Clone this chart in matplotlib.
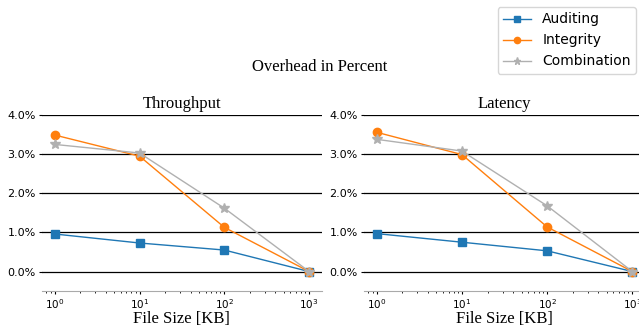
import matplotlib
matplotlib.use("Agg")
import matplotlib.pyplot as plt
from matplotlib.ticker import PercentFormatter

# File sizes in KB
file_sizes = [1, 10, 100, 1000]

# Overhead in percent
throughput_auditing = [0.96, 0.73, 0.55, 0.0]
throughput_integrity = [3.49, 2.95, 1.13, 0.0]
throughput_combination = [3.25, 3.03, 1.62, 0.0]

latency_auditing = [0.97, 0.75, 0.53, 0.0]
latency_integrity = [3.56, 2.99, 1.14, 0.0]
latency_combination = [3.38, 3.08, 1.68, 0.0]

panels = [
    ("Throughput", throughput_auditing, throughput_integrity, throughput_combination),
    ("Latency", latency_auditing, latency_integrity, latency_combination),
]

serif = ["Liberation Serif", "DejaVu Serif"]

fig = plt.figure(figsize=(6.39, 3.26), dpi=100)
positions = [[0.0657, 0.107, 0.438, 0.540], [0.5696, 0.107, 0.44, 0.540]]

for pos, (title, aud, integ, comb) in zip(positions, panels):
    ax = fig.add_axes(pos)
    ax.plot(file_sizes, aud, marker="s", color="#1f77b4", lw=1, ms=6, label="Auditing")
    ax.plot(file_sizes, integ, marker="o", color="#ff7f0e", lw=1, ms=6, label="Integrity")
    ax.plot(file_sizes, comb, marker="*", color="#b0b0b0", lw=1, ms=7, label="Combination")
    ax.set_xscale("log")
    ax.set_ylim(-0.5, 4.0)
    ax.set_yticks([0, 1, 2, 3, 4])
    ax.yaxis.set_major_formatter(PercentFormatter(decimals=1))
    ax.yaxis.grid(True, color="black", lw=0.9)
    ax.set_axisbelow(True)
    for side in ["top", "right", "left"]:
        ax.spines[side].set_visible(False)
    ax.spines["bottom"].set_color("#aaaaaa")
    ax.tick_params(axis="y", labelsize=8, length=2.5, pad=2)
    ax.tick_params(axis="x", labelsize=7.5, length=2.5, pad=2)
    ax.tick_params(which="minor", length=1.5)
    ax.set_title(title, fontsize=12, family=serif, pad=5)
    ax.set_xlabel("File Size [KB]", fontsize=12, family=serif, labelpad=0)

fig.suptitle("Overhead in Percent", fontsize=12, family=serif, y=0.82)
handles, labels = ax.get_legend_handles_labels()
fig.legend(handles, labels, loc="upper left", bbox_to_anchor=(0.768, 1.0),
           fontsize=10, markerscale=0.75)

plt.savefig("out.png", dpi=100)
